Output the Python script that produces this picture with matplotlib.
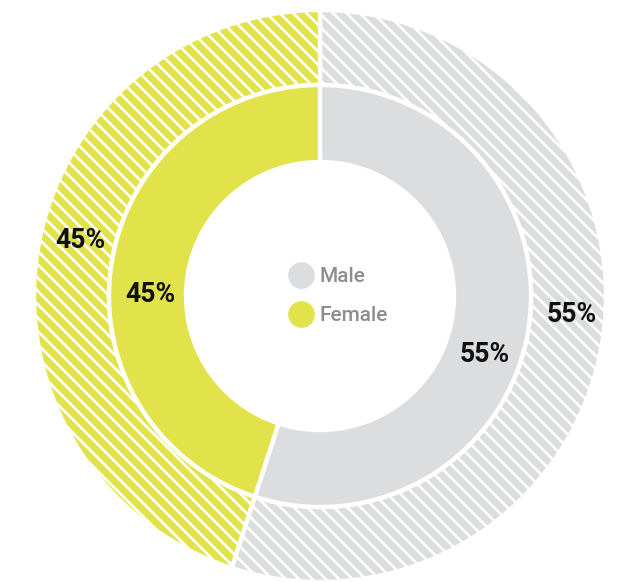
import matplotlib
matplotlib.use("Agg")
import matplotlib.pyplot as plt
from matplotlib.lines import Line2D

# data
categories = ["Male", "Female"]
outer_values = [55, 45]
inner_values = [55, 45]
colors = ["#DCDDDF", "#E2E34B"]

plt.rcParams["font.family"] = ["Roboto", "DejaVu Sans"]
plt.rcParams["hatch.linewidth"] = 1.6

W, H, DPI = 625, 582, 120
fig = plt.figure(figsize=(W / DPI, H / DPI), dpi=DPI)
ax = fig.add_axes([0, 0, 1, 1])

cx, cy = 320, H - 296

# outer ring, hatched
outer, _ = ax.pie(outer_values, colors=colors, radius=286, center=(cx, cy),
                  startangle=90, counterclock=False,
                  wedgeprops=dict(width=75, edgecolor="white", linewidth=2.6))
for w in outer:
    w.set_hatch("\\\\\\")

# inner ring, solid
inner, _ = ax.pie(inner_values, colors=colors, radius=211, center=(cx, cy),
                  startangle=90, counterclock=False,
                  wedgeprops=dict(width=77, edgecolor="white", linewidth=2.6))

ax.set_xlim(0, W)
ax.set_ylim(0, H)
ax.set_aspect("equal")
ax.axis("off")

# percentage labels
lab = dict(fontsize=16, fontweight="bold", color="#111111", ha="center", va="center")
ax.text(572, H - 314, f"{outer_values[0]}%", **lab)
ax.text(80, H - 240, f"{outer_values[1]}%", **lab)
ax.text(485, H - 355, f"{inner_values[0]}%", **lab)
ax.text(150, H - 295, f"{inner_values[1]}%", **lab)

# legend in the hole
handles = [Line2D([], [], marker="o", ls="", ms=15, color=c) for c in colors]
leg = ax.legend(handles, categories, loc="center", bbox_to_anchor=(339 / W, 1 - 296 / H),
                frameon=False, fontsize=12.5, labelcolor="#8C8D8F", handletextpad=0.35,
                labelspacing=0.95, handlelength=1.1)
for t in leg.get_texts():
    t.set_fontweight("medium")

fig.savefig("out.png", dpi=DPI)
